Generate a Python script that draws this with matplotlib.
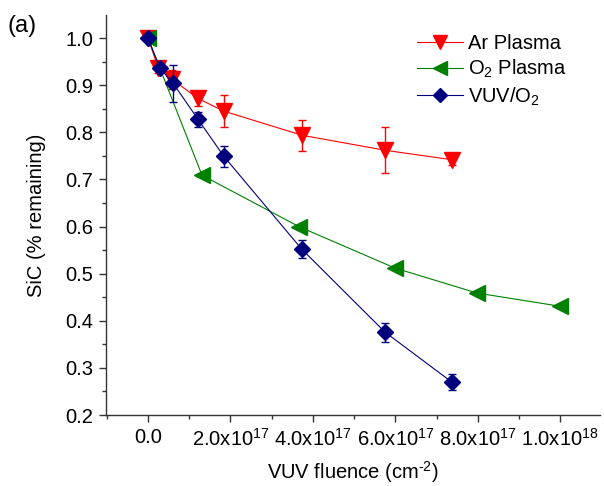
import matplotlib
matplotlib.use("Agg")
import matplotlib.pyplot as plt
from matplotlib.ticker import MultipleLocator, FixedLocator, FixedFormatter

plt.rcParams['font.family'] = ['Liberation Sans', 'DejaVu Sans']
plt.rcParams['mathtext.fontset'] = 'custom'
plt.rcParams['mathtext.rm'] = 'Liberation Sans'
plt.rcParams['mathtext.it'] = 'Liberation Sans:italic'
plt.rcParams['mathtext.bf'] = 'Liberation Sans:bold'

# Data (fluence in units of 1e17 cm^-2)
ar_x = [0.0, 0.25, 0.58, 1.21, 1.84, 3.73, 5.75, 7.37]
ar_y = [1.0, 0.936, 0.913, 0.872, 0.845, 0.794, 0.762, 0.742]
ar_err = [0.006, 0.010, 0.02, 0.015, 0.034, 0.033, 0.049, 0.012]

o2_x = [0.0, 1.31, 3.66, 5.99, 7.98, 9.99]
o2_y = [1.0, 0.709, 0.600, 0.512, 0.459, 0.431]

vuv_x = [0.0, 0.29, 0.61, 1.21, 1.84, 3.73, 5.75, 7.37]
vuv_y = [1.0, 0.936, 0.904, 0.828, 0.749, 0.552, 0.376, 0.270]
vuv_err = [0.006, 0.008, 0.040, 0.016, 0.023, 0.019, 0.020, 0.017]

xtick_vals = [0, 2, 4, 6, 8, 10]
xtick_labels = ['0.0', r'2.0x10$^{17}$', r'4.0x10$^{17}$', r'6.0x10$^{17}$',
                r'8.0x10$^{17}$', r'1.0x10$^{18}$']

fig = plt.figure(figsize=(6.04, 4.86), dpi=100)
ax = fig.add_axes([0.1755, 0.146, 0.8175, 0.823])

red = '#ff0000'
green = '#008000'
navy = '#00007f'

o2_line, = ax.plot(o2_x, o2_y, color=green, lw=0.8, marker='<', ms=12, mec=green,
                   mfc=green, zorder=3)
ar_cont = ax.errorbar(ar_x, ar_y, yerr=ar_err, color=red, lw=0.8, marker='v', ms=12,
                      mec=red, mfc=red, capsize=3.2, elinewidth=1.0, capthick=1.0,
                      zorder=2)
vuv_cont = ax.errorbar(vuv_x, vuv_y, yerr=vuv_err, color=navy, lw=0.8, marker='D',
                       ms=8.5, mec=navy, mfc=navy, capsize=3.2, elinewidth=1.0,
                       capthick=1.0, zorder=4)

ax.set_xlim(-1.02, 10.96)
ax.set_ylim(0.2, 1.049)

ax.spines['top'].set_visible(False)
ax.spines['right'].set_visible(False)
for s in ['left', 'bottom']:
    ax.spines[s].set_color('#333333')
    ax.spines[s].set_linewidth(1.0)

ax.xaxis.set_major_locator(FixedLocator(xtick_vals))
ax.xaxis.set_major_formatter(FixedFormatter(xtick_labels))
ax.xaxis.set_minor_locator(MultipleLocator(1))
ax.yaxis.set_major_locator(MultipleLocator(0.1))
ax.yaxis.set_minor_locator(MultipleLocator(0.05))
ax.yaxis.set_major_formatter(matplotlib.ticker.FormatStrFormatter('%.1f'))

ax.tick_params(axis='both', which='major', direction='out', length=5, width=1,
               labelsize=14.5, color='#333333', pad=4)
ax.tick_params(axis='both', which='minor', direction='out', length=3, width=1,
               color='#333333')
ax.tick_params(axis='x', which='major', pad=4)

ax.set_xlabel('VUV fluence (cm$^{\u2010 2}$)', fontsize=14.5, labelpad=7)
ax.set_ylabel('SiC (% remaining)', fontsize=14.5, labelpad=14)

leg = ax.legend([ar_cont[0], o2_line, vuv_cont[0]],
                ['Ar Plasma', r'O$_2$ Plasma', r'VUV/O$_2$'],
                loc='upper left', bbox_to_anchor=(417 / 604, 1 - 34 / 486),
                bbox_transform=fig.transFigure, frameon=False,
                fontsize=14.5, handlelength=2.3, labelspacing=0.25,
                handletextpad=0.25, borderaxespad=0, borderpad=0,
                markerscale=0.85)

fig.text(0.012, 0.935, '(a)', fontsize=17)

fig.savefig('out.png', dpi=100)
